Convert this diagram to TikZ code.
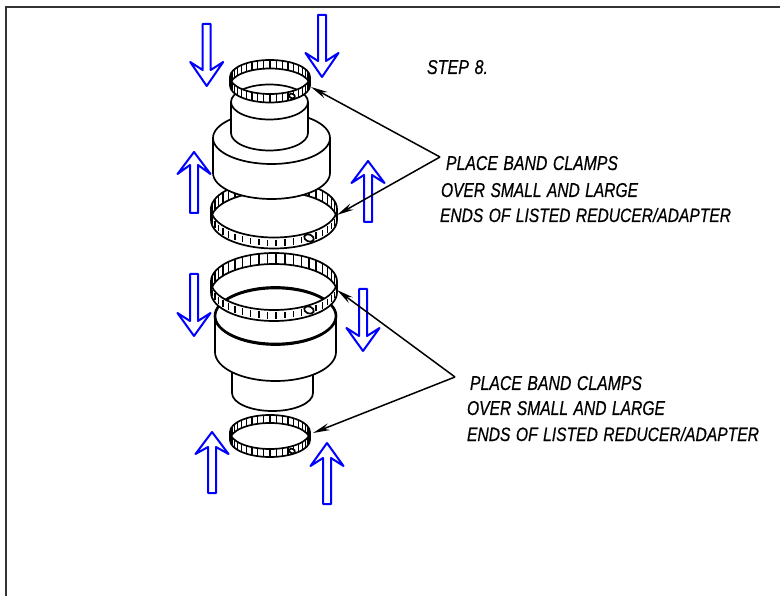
\documentclass[tikz,border=0pt]{standalone}
\usepackage{fontspec}
\setmainfont{Liberation Sans}
\usepackage{graphicx}
\usetikzlibrary{arrows.meta}
\newfontfamily\cadfont[ItalicFont={Liberation Sans Italic},ItalicFeatures={FakeBold=0.6},WordSpace=1.25]{Liberation Sans}
\definecolor{cadblue}{RGB}{0,0,255}
\tikzset{
  frameline/.style={draw=black!80,line width=1.2pt},
  part/.style={draw=black,line width=1.7pt},
  thickpart/.style={draw=black,line width=2.6pt},
  tickline/.style={draw=black,line width=1.5pt},
  blockarrow/.style={draw=cadblue,line width=2pt,fill=white,line join=round},
  leader/.style={draw=black,line width=1.5pt},
  leaderhead/.style={-{Stealth[length=17pt,width=7pt]}},
  cadtext/.style={anchor=base west,inner sep=0pt,outer sep=0pt,text=black}
}
% cylinder: cx, ytop, ybot, rx, ry
\newcommand\cadcyl[5]{%
  \path[fill=white] (#1-#4,#2) -- (#1-#4,#3) arc[start angle=180,end angle=0,x radius=#4,y radius=#5]
     -- (#1+#4,#2) arc[start angle=0,end angle=-180,x radius=#4,y radius=#5] -- cycle;
  \draw[part] (#1-#4,#2) -- (#1-#4,#3) arc[start angle=180,end angle=0,x radius=#4,y radius=#5] -- (#1+#4,#2);
  \draw[part] (#1,#2) ellipse[x radius=#4,y radius=#5];
}
% clamp: cx, cy, rx, ry, h, angular step, fraction of the band that front ticks cover
\newcommand\cadclamp[7]{%
  \path[fill=white] (#1-#3,#2) arc[start angle=180,end angle=0,x radius=#3,y radius=#4]
     -- (#1+#3,#2+#5) arc[start angle=0,end angle=180,x radius=#3,y radius=#4] -- cycle;
  \foreach \t in {180,...,360} {\pgfmathparse{int(mod(\t,#6))}\ifnum\pgfmathresult=0
    \draw[tickline] ({#1+#3*cos(\t)},{#2+#4*sin(\t)}) -- ({#1+#3*cos(\t)},{#2+#5+#4*sin(\t)});\fi}
  \foreach \t in {0,...,180} {\pgfmathparse{int(mod(\t,#6))}\ifnum\pgfmathresult=0
    \draw[tickline] ({#1+#3*cos(\t)},{#2+#5*(1+#7)/2+#4*sin(\t)}) -- ({#1+#3*cos(\t)},{#2+#5*(1-#7)/2+#4*sin(\t)});\fi}
  \draw[part] (#1,#2) ellipse[x radius=#3,y radius=#4];
  \draw[part] (#1,#2+#5) ellipse[x radius=#3,y radius=#4];
  \draw[part] (#1-#3,#2) -- (#1-#3,#2+#5) (#1+#3,#2) -- (#1+#3,#2+#5);
}
% buckle: x, y, rx, ry
\newcommand\cadbuckle[4]{%
  \draw[part,fill=white,rotate around={-20:(#1,#2)}] (#1,#2) ellipse[x radius=#3,y radius=#4];
}
% block arrow: cx, ytail, ywing, yjunction, ytip, half width of wings
\newcommand\cadarrow[6]{%
  \draw[blockarrow] (#1-4,#2) -- (#1-4,#4) -- (#1-#6,#3) -- (#1,#5) -- (#1+#6,#3) -- (#1+4,#4) -- (#1+4,#2) -- cycle;
}
\begin{document}
\begin{tikzpicture}[x=1pt,y=-1pt]
\useasboundingbox (0,0) rectangle (780,596);
\draw[frameline] (6,596) -- (6,7) -- (780,7);

% upper stack
\cadclamp{274}{209}{63}{28.5}{11}{8}{0.6}
\cadbuckle{309}{238}{5}{3.5}
\cadcyl{271.5}{138}{173}{58.5}{26}
\cadcyl{269.5}{102}{133}{38.5}{17.5}
\cadclamp{270}{77}{40}{17}{8.5}{9}{1}
\cadbuckle{292}{96}{3}{2.2}

% lower stack
\cadcyl{272.5}{345}{393}{40.5}{18}
\cadcyl{275.5}{316}{352}{60.5}{29}
\draw[thickpart] (275.5,316) ellipse[x radius=60.5,y radius=28];
\cadclamp{274}{281.5}{63}{28.5}{11}{8}{0.6}
\cadbuckle{309}{310}{5}{3.5}
\cadclamp{270}{432}{40}{17}{8}{9}{1}
\cadbuckle{292}{451}{3}{2.2}

% blue arrows
\cadarrow{206.7}{24}{62}{70}{86}{16.5}
\cadarrow{322}{15}{53}{61}{77}{16.5}
\cadarrow{194}{213}{174}{165}{152}{16.5}
\cadarrow{368}{222}{183}{175}{161}{16.5}
\cadarrow{194}{274}{313}{321}{336}{16.5}
\cadarrow{363}{289}{328}{336}{351}{16.5}
\cadarrow{212}{493}{454}{447}{432}{16.5}
\cadarrow{327}{504}{466}{458}{443}{16.5}

% leaders
\coordinate (joinA) at (440,157);
\coordinate (tipA1) at (311,87);
\coordinate (tipA2) at (337,215);
\coordinate (joinB) at (455,377);
\coordinate (tipB1) at (337,290);
\coordinate (tipB2) at (313,433);
\draw[leader,leaderhead] (joinA) -- (tipA1);
\draw[leader,leaderhead] (joinA) -- (tipA2);
\draw[leader,leaderhead] (joinB) -- (tipB1);
\draw[leader,leaderhead] (joinB) -- (tipB2);

% texts
\node[cadtext] (step8) at (427,74) {\resizebox{61pt}{14pt}{\cadfont\itshape STEP 8.}};
\node[cadtext] (a1) at (446,170) {\resizebox{172pt}{14pt}{\cadfont\itshape PLACE BAND CLAMPS}};
\node[cadtext] (a2) at (441,197) {\resizebox{197pt}{14pt}{\cadfont\itshape OVER SMALL AND LARGE}};
\node[cadtext] (a3) at (440,222) {\resizebox{291pt}{14pt}{\cadfont\itshape ENDS OF LISTED REDUCER/ADAPTER}};
\node[cadtext] (b1) at (470,390) {\resizebox{172pt}{14pt}{\cadfont\itshape PLACE BAND CLAMPS}};
\node[cadtext] (b2) at (467,415) {\resizebox{198pt}{14pt}{\cadfont\itshape OVER SMALL AND LARGE}};
\node[cadtext] (b3) at (467,441) {\resizebox{292pt}{14pt}{\cadfont\itshape ENDS OF LISTED REDUCER/ADAPTER}};
\end{tikzpicture}
\end{document}
